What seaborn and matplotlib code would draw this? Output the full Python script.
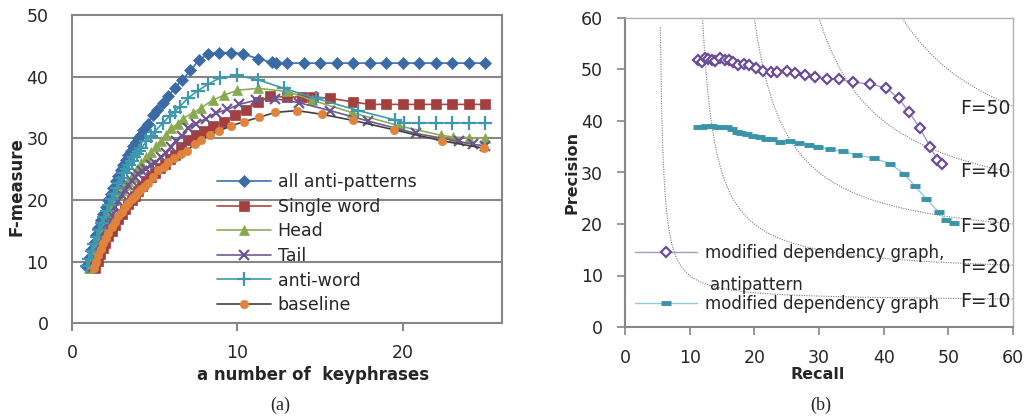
import numpy as np
import seaborn as sns
import matplotlib.pyplot as plt

# ---- (a) F-measure vs number of keyphrases ----
all_x = [0.85, 1.0, 1.15, 1.3, 1.45, 1.6, 1.75, 1.9, 2.05, 2.2, 2.35, 2.5, 2.65, 2.8, 2.95,
         3.1, 3.25, 3.4, 3.55, 3.7, 3.85, 4.0, 4.15, 4.3, 4.6, 4.87, 5.15, 5.5, 5.8, 6.2,
         6.68, 7.16, 7.67, 8.25, 8.9, 9.6, 10.35, 11.25, 12.1, 12.35, 13, 14, 15, 16, 17,
         18, 19, 20, 21, 22, 23, 24, 25]
all_y = [9.3, 10.6, 11.9, 13.1, 14.3, 15.5, 16.7, 17.8, 18.9, 20.0, 21.0, 22.0, 23.0, 23.9, 24.8,
         25.7, 26.5, 27.3, 28.0, 28.7, 29.4, 30.0, 30.6, 31.3, 32.4, 33.8, 34.6, 35.7, 36.8, 38.1,
         39.5, 41.0, 42.7, 43.7, 43.9, 43.9, 43.7, 42.9, 42.3, 42.2, 42.2, 42.2, 42.2, 42.2, 42.2,
         42.2, 42.2, 42.2, 42.2, 42.2, 42.2, 42.2, 42.2]

single_x = [1.4, 1.55, 1.7, 1.85, 2.0, 2.2, 2.4, 2.6, 2.8, 3.0, 3.2, 3.4, 3.6, 3.8, 4.0, 4.25,
            4.5, 4.75, 5.0, 5.3, 5.6, 5.9, 6.2, 6.6, 7.0, 7.5, 8.0, 8.5, 9.2, 9.85, 10.55,
            11.24, 11.96, 12.97, 13.9, 14.6, 15.6, 17.0, 18, 19, 20, 21, 22, 23, 24, 25]
single_y = [9.0, 10.1, 11.2, 12.2, 13.1, 14.1, 15.0, 16.0, 16.9, 17.7, 18.5, 19.3, 20.0, 20.7,
            21.4, 22.2, 23.0, 23.7, 24.4, 25.2, 25.9, 26.6, 27.3, 28.6, 29.7, 30.5, 31.2, 32.0,
            32.7, 33.8, 34.6, 35.9, 36.8, 36.7, 36.7, 36.7, 36.5, 35.9, 35.5, 35.5, 35.5, 35.5,
            35.5, 35.5, 35.5, 35.5]

head_x = [1.0, 1.15, 1.3, 1.45, 1.6, 1.8, 2.0, 2.2, 2.4, 2.6, 2.8, 3.0, 3.2, 3.4, 3.6, 3.9,
          4.2, 4.5, 4.8, 5.1, 5.4, 5.7, 6.0, 6.4, 6.7, 7.3, 7.8, 8.5, 9.2, 10.0, 11.25, 13.0,
          14.5, 16.9, 19.8, 22.3, 23.06, 24.0, 25.0]
head_y = [9.0, 10.2, 11.3, 12.4, 13.5, 15.0, 16.5, 17.8, 19.0, 20.0, 20.8, 21.6, 22.4, 23.1,
          23.8, 25.0, 26.0, 26.9, 27.8, 28.7, 29.6, 30.6, 31.6, 32.4, 33.2, 34.1, 34.9, 36.2,
          37.0, 37.8, 38.1, 37.6, 36.2, 34.2, 32.0, 30.5, 30.2, 30.1, 30.0]

tail_x = [1.2, 1.35, 1.5, 1.65, 1.8, 2.0, 2.2, 2.4, 2.6, 2.8, 3.0, 3.2, 3.4, 3.6, 3.8, 4.0,
          4.25, 4.5, 4.75, 5.0, 5.37, 5.67, 6.0, 6.3, 6.65, 7.0, 7.5, 8.1, 8.7, 9.4, 10.1,
          11.15, 12.3, 13.7, 15.6, 17.9, 20.8, 23.4, 24.25, 25.0]
tail_y = [9.0, 10.2, 11.4, 12.5, 13.6, 15.0, 16.3, 17.6, 18.8, 19.9, 20.8, 21.6, 22.4, 23.1,
          23.7, 24.2, 24.7, 25.1, 25.6, 26.0, 26.9, 27.7, 28.6, 29.6, 30.4, 31.6, 32.4, 33.2,
          34.1, 34.7, 35.5, 36.2, 36.4, 35.8, 34.5, 32.8, 30.8, 29.5, 29.0, 28.8]

antiword_x = [0.9, 1.05, 1.2, 1.35, 1.5, 1.65, 1.8, 1.95, 2.1, 2.25, 2.4, 2.55, 2.7, 2.85, 3.0,
              3.15, 3.3, 3.45, 3.6, 3.75, 3.9, 4.05, 4.2, 4.5, 4.8, 5.0, 5.5, 5.9, 6.2, 6.5,
              7.0, 7.6, 8.23, 8.95, 10.0, 11.25, 12.8, 14.75, 17.3, 19.5, 20.1, 21, 22, 23,
              24, 25]
antiword_y = [9.3, 10.5, 11.7, 12.9, 14.0, 15.1, 16.2, 17.2, 18.2, 19.2, 20.1, 21.0, 21.9, 22.7,
              23.5, 24.3, 25.0, 25.7, 26.4, 27.0, 27.5, 28.0, 28.4, 29.5, 30.3, 31.1, 32.5,
              33.6, 34.3, 35.1, 36.5, 37.7, 38.8, 39.8, 40.2, 39.5, 38.1, 36.5, 34.5, 33.0,
              32.5, 32.5, 32.5, 32.5, 32.5, 32.5]

base_x = [1.3, 1.45, 1.6, 1.75, 1.9, 2.05, 2.2, 2.4, 2.6, 2.8, 3.0, 3.2, 3.4, 3.6, 3.8, 4.0,
          4.2, 4.4, 4.6, 4.87, 5.2, 5.55, 5.8, 6.18, 6.6, 6.96, 7.42, 7.83, 8.37, 8.9, 9.6,
          10.4, 11.3, 12.3, 13.6, 15.1, 17.0, 19.45, 22.35, 24.9]
base_y = [9.0, 10.0, 11.1, 12.1, 13.0, 13.9, 14.7, 15.6, 16.5, 17.4, 18.1, 18.8, 19.5, 20.1,
          20.7, 21.3, 21.8, 22.3, 22.8, 23.8, 24.8, 25.4, 26.1, 26.8, 27.5, 28.0, 29.1, 29.8,
          30.6, 31.2, 32.0, 32.7, 33.4, 34.2, 34.5, 33.9, 32.9, 31.4, 29.6, 28.4]

# ---- (b) precision / recall ----
anti_recall = [11.3, 11.85, 12.4, 12.9, 13.4, 13.9, 14.7, 15.5, 16.1, 16.75, 17.5, 18.4, 19.2,
               20.3, 21.4, 22.5, 23.45, 25.0, 26.3, 27.8, 29.4, 31.2, 33.1, 35.3, 37.9, 40.4,
               42.3, 43.9, 45.6, 47.2, 48.3, 49.0]
anti_prec = [51.9, 51.5, 52.2, 52.1, 51.8, 51.6, 52.2, 51.9, 51.8, 51.5, 50.9, 51.1, 50.8, 50.2,
             49.8, 49.6, 49.5, 49.8, 49.4, 48.9, 48.5, 48.2, 48.1, 47.5, 47.2, 46.4, 44.4, 41.8,
             38.6, 35.0, 32.4, 31.6]
mdg_recall = [11.3, 11.9, 12.6, 13.4, 14.2, 14.9, 15.7, 16.5, 17.3, 18.0, 18.8, 19.8, 20.8, 21.8,
              22.7, 24.0, 25.5, 26.9, 28.4, 29.9, 31.7, 33.7, 35.9, 38.5, 41.0, 43.1, 44.8,
              46.6, 48.5, 49.7, 50.8]
mdg_prec = [38.9, 38.9, 39.1, 39.1, 38.9, 38.8, 38.8, 38.4, 37.9, 37.7, 37.5, 37.1, 36.9, 36.6,
            36.5, 36.0, 36.2, 35.7, 35.4, 35.0, 34.5, 34.1, 33.4, 32.8, 31.7, 29.8, 27.4, 24.9,
            22.3, 20.7, 20.2]

f_levels = [10, 20, 30, 40, 50]
f_start_recall = [5.47, 12.0, 20.0, 30.0, 42.9]
f_label_prec = [5.0, 11.5, 19.6, 30.1, 42.5]

sns.set_theme(style="white")
plt.rcParams['font.family'] = ['DejaVu Sans']

GRAY = "#868686"
fig = plt.figure(figsize=(10.33, 4.19), dpi=100)

# ================= left panel =================
ax1 = fig.add_axes([72 / 1033, 1 - 323.3 / 419, 430 / 1033, 308.3 / 419])
for yv in [10, 20, 30, 40]:
    ax1.axhline(yv, color=GRAY, lw=1.5, zorder=0)

series = [
    (all_x, all_y, "all anti-patterns", "#4170A8", "D", 6, "#3A6BA5"),
    (single_x, single_y, "Single word", "#AA4643", "s", 7, "#A3403D"),
    (head_x, head_y, "Head", "#8EAD55", "^", 7, "#8AA94F"),
    (tail_x, tail_y, "Tail", "#71588F", "x", 7, "#6E5590"),
    (antiword_x, antiword_y, "anti-word", "#4198AF", "+", 10, "#3E98AE"),
    (base_x, base_y, "baseline", "#404040", "o", 6, "#E0843D"),
]
for xs, ys, lab, lc, mk, ms, mc in series:
    sns.lineplot(x=xs, y=ys, ax=ax1, sort=False, color=lc, lw=1.2, marker=mk,
                 markersize=ms, markerfacecolor=mc, markeredgecolor=mc,
                 markeredgewidth=1.6 if mk in ("x", "+") else 0.5, label=lab)

ax1.set_xlim(0, 26)
ax1.set_ylim(0, 50)
ax1.set_xticks([0, 10, 20])
ax1.set_yticks([0, 10, 20, 30, 40, 50])
ax1.tick_params(axis="x", length=6, width=1.5, color=GRAY, pad=9, labelsize=12.5,
                direction="out", bottom=True)
ax1.tick_params(axis="y", length=0, pad=17, labelsize=12.5)
for sp in ax1.spines.values():
    sp.set_color(GRAY)
    sp.set_linewidth(1.5)
ax1.set_xlabel("a number of  keyphrases", fontsize=12, fontweight="bold")
ax1.set_ylabel("F-measure", fontsize=12, fontweight="bold")
ax1.xaxis.set_label_coords(0.56, -0.138)
ax1.yaxis.set_label_coords(-0.109, 0.445)
ax1.legend(loc="upper left", bbox_to_anchor=(0.337, 0.487), frameon=False, fontsize=12.5,
           handlelength=3.1, handletextpad=0.4, labelspacing=0.38, borderpad=0,
           borderaxespad=0)

# ================= right panel =================
ax2 = fig.add_axes([625 / 1033, 1 - 327 / 419, 388 / 1033, 309 / 419])
for f, r0, py in zip(f_levels, f_start_recall, f_label_prec):
    rr = np.linspace(r0, 60, 300)
    pp = f * rr / (2 * rr - f)
    ax2.plot(rr, pp, ls=(0, (1, 1.2)), color="#7a7a7a", lw=0.8, zorder=1)
    ax2.text(59.6, py, f"F={f}", ha="right", va="center", fontsize=13.5, zorder=3)

sns.lineplot(x=anti_recall, y=anti_prec, ax=ax2, sort=False, color="#A898C8", lw=1.0,
             marker="D", markersize=5, markerfacecolor="white", markeredgecolor="#6B4C96",
             markeredgewidth=1.6, label="modified dependency graph,", zorder=4)
sns.lineplot(x=mdg_recall, y=mdg_prec, ax=ax2, sort=False, color="#92CAD9", lw=1.0,
             marker="_", markersize=7, markeredgecolor="#3A93A8", markeredgewidth=3.5,
             label="modified dependency graph", zorder=4)

ax2.set_xlim(0, 60)
ax2.set_ylim(0, 60)
ax2.set_xticks(range(0, 61, 10))
ax2.set_yticks(range(0, 61, 10))
ax2.tick_params(axis="both", length=6, width=1.2, color=GRAY, labelsize=12.5,
                direction="out", bottom=True, left=True)
ax2.tick_params(axis="x", pad=10)
ax2.tick_params(axis="y", pad=10)
for name, sp in ax2.spines.items():
    sp.set_color(GRAY if name in ("left", "bottom") else "#b0b0b0")
    sp.set_linewidth(1.5 if name in ("left", "bottom") else 1.0)
ax2.set_xlabel("Recall", fontsize=11.5, fontweight="bold")
ax2.set_ylabel("Precision", fontsize=11.5, fontweight="bold")
ax2.xaxis.set_label_coords(0.497, -0.129)
ax2.yaxis.set_label_coords(-0.116, 0.5)
ax2.legend(loc="upper left", bbox_to_anchor=(0.026, 0.27), frameon=False, fontsize=12,
           handlelength=3.7, handletextpad=0.5, labelspacing=2.0, borderpad=0,
           borderaxespad=0)
ax2.text(0.219, 0.136, "antipattern", transform=ax2.transAxes, fontsize=12,
         ha="left", va="center", zorder=3)

fig.text(280 / 1033, 1 - 405 / 419, "(a)", ha="center", va="center", fontsize=13,
         family="Liberation Serif")
fig.text(821 / 1033, 1 - 405 / 419, "(b)", ha="center", va="center", fontsize=13,
         family="Liberation Serif")

fig.savefig("out.png", dpi=100)
